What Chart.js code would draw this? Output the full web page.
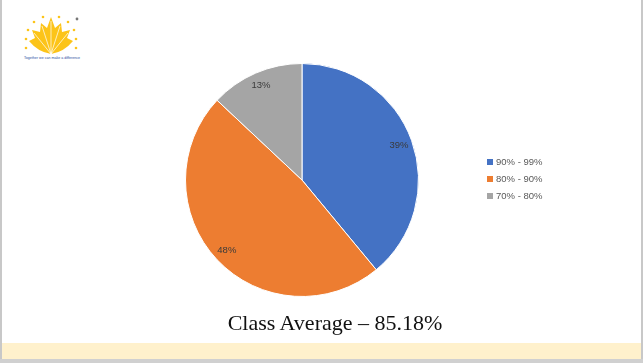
<!DOCTYPE html>
<html>
<head>
<meta charset="utf-8">
<script src="https://cdn.jsdelivr.net/npm/chart.js@4.4.0/dist/chart.umd.min.js"></script>
<style>
  html, body { margin:0; padding:0; background:#ffffff; }
  #slide { position:relative; width:643px; height:363px; overflow:hidden; background:#fff; }
  #lb { position:absolute; left:0; top:0; width:2px; height:363px; background:#c8c8c8; }
  #rb { position:absolute; left:641px; top:0; width:2px; height:363px; background:#c8c8c8; }
  #band { position:absolute; left:2px; top:343px; width:639px; height:16px; background:#fff1cc; }
  #bot { position:absolute; left:0; top:359px; width:643px; height:4px; background:#d0d0d0; }
  #wrap { position:absolute; left:0; top:0; width:643px; height:363px; }
  #title { position:absolute; left:0; width:670px; top:310px; text-align:center; font-family:"Liberation Serif","DejaVu Serif",serif; font-size:22px; color:#111; white-space:nowrap; }
  #logo { position:absolute; left:18px; top:10px; }
</style>
</head>
<body>
<div id="slide">
  <div id="lb"></div><div id="rb"></div>
  <div id="band"></div><div id="bot"></div>
  <svg id="logo" width="70" height="55" viewBox="0 0 70 55">
    <g fill="#fcc419">
      <path d="M33 44 Q20 42 11 31 L17 28 L14 20 L22 22 L23 13 L29 18 L33 7 L37 18 L43 13 L44 22 L52 20 L49 28 L55 31 Q46 42 33 44 Z"/>
    </g>
    <g stroke="#fff" stroke-width="0.7">
      <line x1="33" y1="44" x2="33" y2="11"/>
      <line x1="33" y1="44" x2="24" y2="16"/>
      <line x1="33" y1="44" x2="42" y2="16"/>
      <line x1="33" y1="44" x2="16" y2="23"/>
      <line x1="33" y1="44" x2="50" y2="23"/>
    </g>
    <g fill="#fcc419">
      <circle cx="8" cy="29" r="1.3"/><circle cx="10" cy="20" r="1.3"/><circle cx="16" cy="12" r="1.3"/>
      <circle cx="25" cy="7" r="1.3"/><circle cx="41" cy="7" r="1.3"/><circle cx="50" cy="12" r="1.3"/>
      <circle cx="56" cy="20" r="1.3"/><circle cx="58" cy="29" r="1.3"/><circle cx="8" cy="38" r="1.3"/><circle cx="58" cy="38" r="1.3"/>
    </g>
    <circle cx="59" cy="9" r="1.4" fill="#777"/>
    <text x="34" y="49" font-family="Liberation Sans" font-size="3.6" fill="#2a4ea0" text-anchor="middle">Together we can make a difference</text>
  </svg>
  <div id="wrap"><canvas id="c"></canvas></div>
  <div id="title">Class Average – 85.18%</div>
</div>
<script>
const categories = ["90% - 99%", "80% - 90%", "70% - 80%"];
const shares = [39, 48, 13];
const sliceColors = ["#4472C4", "#ED7D31", "#A5A5A5"];

const pctLabels = {
  id: 'pctLabels',
  afterDatasetsDraw(chart) {
    const ctx = chart.ctx;
    const meta = chart.getDatasetMeta(0);
    const ds = chart.data.datasets[0].data;
    const total = ds.reduce((a, b) => a + b, 0);
    ctx.save();
    ctx.font = '9.5px "Liberation Sans", Arial, sans-serif';
    ctx.fillStyle = '#3a3a3a';
    ctx.textAlign = 'center';
    ctx.textBaseline = 'middle';
    meta.data.forEach((arc, i) => {
      const p = arc.getProps(['x', 'y', 'startAngle', 'endAngle', 'outerRadius'], true);
      const mid = (p.startAngle + p.endAngle) / 2;
      const r = p.outerRadius * 0.885;
      ctx.fillText(Math.round(ds[i] / total * 100) + '%', p.x + Math.cos(mid) * r, p.y + Math.sin(mid) * r);
    });
    ctx.restore();
  }
};

const sideLegend = {
  id: 'sideLegend',
  afterDraw(chart) {
    const ctx = chart.ctx;
    ctx.save();
    ctx.font = '9.5px "Liberation Sans", Arial, sans-serif';
    ctx.textBaseline = 'middle';
    chart.data.labels.forEach((lab, i) => {
      const y = 162 + i * 17;
      ctx.fillStyle = chart.data.datasets[0].backgroundColor[i];
      ctx.fillRect(487, y - 3, 6, 6);
      ctx.fillStyle = '#595959';
      ctx.fillText(lab, 496, y);
    });
    ctx.restore();
  }
};

new Chart(document.getElementById('c'), {
  type: 'pie',
  data: {
    labels: categories,
    datasets: [{ data: shares, backgroundColor: sliceColors, borderColor: '#ffffff', borderWidth: 1 }]
  },
  options: {
    responsive: true,
    maintainAspectRatio: false,
    animation: false,
    layout: { padding: { left: 185, right: 224, top: 63, bottom: 66 } },
    plugins: { legend: { display: false }, tooltip: { enabled: false } }
  },
  plugins: [pctLabels, sideLegend]
});
</script>
</body>
</html>
